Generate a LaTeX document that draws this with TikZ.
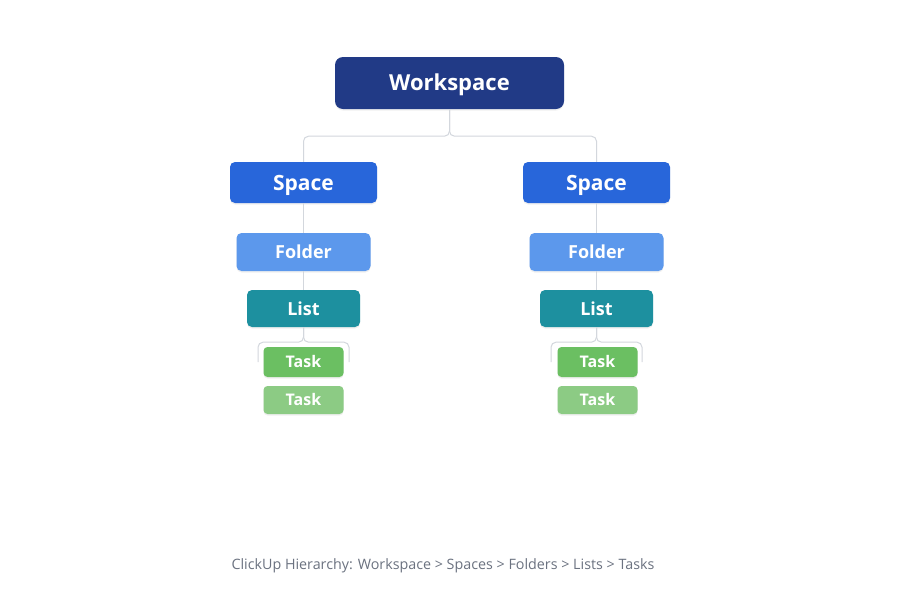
\documentclass[tikz,border=0pt]{standalone}
\usepackage{fontspec}
\setmainfont{Open Sans}
\usetikzlibrary{shadows}
\definecolor{wsC}{HTML}{213A86}
\definecolor{spC}{HTML}{2866DA}
\definecolor{foC}{HTML}{5C98EC}
\definecolor{liC}{HTML}{1D909F}
\definecolor{taC}{HTML}{6BBF62}
\definecolor{tbC}{HTML}{8CCB84}
\definecolor{lnC}{HTML}{D3D7DD}
\definecolor{capC}{HTML}{6B7280}
\tikzset{
  box/.style={rounded corners=5pt, text=white, inner sep=0pt, text depth=0pt,
    drop shadow={shadow xshift=0pt, shadow yshift=-1.5pt, opacity=0.12}},
  wsbox/.style={box, fill=wsC, minimum width=229pt, minimum height=52pt, font=\fontsize{22}{26}\selectfont\bfseries, text height=15.7pt, rounded corners=8pt},
  spbox/.style={box, fill=spC, minimum width=147pt, minimum height=41pt, font=\fontsize{21}{25}\selectfont\bfseries, text height=16pt},
  fobox/.style={box, fill=foC, minimum width=134pt, minimum height=38pt, font=\fontsize{18}{22}\selectfont\bfseries, text height=13.5pt},
  libox/.style={box, fill=liC, minimum width=113pt, minimum height=37pt, font=\fontsize{18}{22}\selectfont\bfseries, text height=13.5pt},
  tabox/.style={box, fill=taC, minimum width=80pt, minimum height=30pt, font=\fontsize{16}{19}\selectfont\bfseries, text height=11.4pt, rounded corners=4pt},
  tbbox/.style={box, fill=tbC, minimum width=80pt, minimum height=28pt, font=\fontsize{16}{19}\selectfont\bfseries, text height=11.4pt, rounded corners=4pt},
  conn/.style={draw=lnC, line width=1pt, rounded corners=5pt},
}
\begin{document}
\begin{tikzpicture}[x=1pt,y=-1pt]
\useasboundingbox[fill=white] (0,0) rectangle (900,600);
\node[wsbox] (ws) at (449.5,83) {Workspace};
\foreach \s/\cx in {L/303.5, R/596.5}{
  \node[spbox] (sp\s) at (\cx,182.5) {Space};
  \node[fobox] (fo\s) at (\cx,252) {Folder};
  \node[libox] (li\s) at (\cx,308.5) {List};
}
\draw[conn] (ws.south) -- ++(0,27) -| (spL.north);
\draw[conn] (ws.south) -- ++(0,27) -| (spR.north);
\foreach \s in {L,R}{
  \draw[conn] (sp\s.south) -- (fo\s.north);
  \draw[conn] (fo\s.south) -- (li\s.north);
  \draw[conn] (li\s.south) -- ++(0,15) -| ++(-45.5,20);
  \draw[conn] (li\s.south) -- ++(0,15) -| ++(45.5,20);
}
\node[tabox] (taL1) at (303.5,362) {Task};
\node[tbbox] (taL2) at (303.5,400) {Task};
\node[tabox] (taR1) at (597.5,362) {Task};
\node[tbbox] (taR2) at (597.5,400) {Task};
\node[font=\fontsize{14.3}{17}\selectfont, text=capC, text height=10.2pt, text depth=0pt, inner sep=0pt] (cap) at (443,564) {ClickUp Hierarchy: Workspace > Spaces > Folders > Lists > Tasks};
\end{tikzpicture}
\end{document}
